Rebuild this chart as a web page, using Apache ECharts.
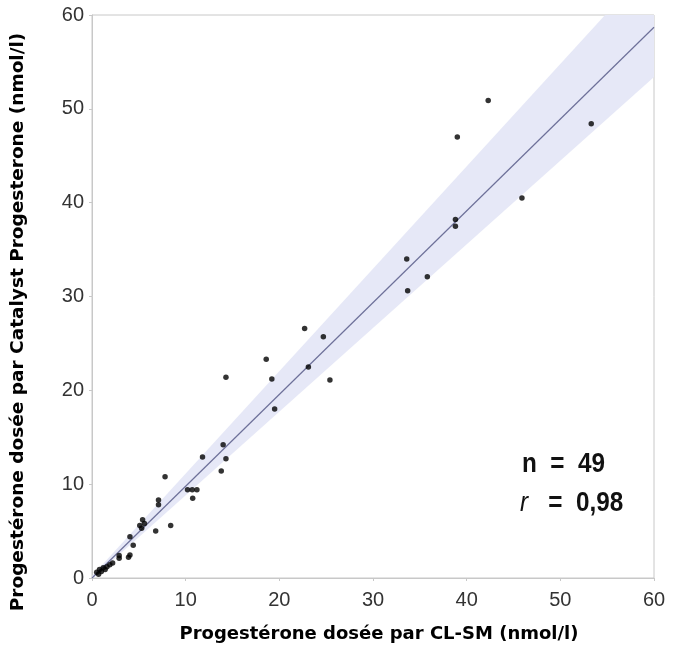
<!DOCTYPE html>
<html>
<head>
<meta charset="utf-8">
<script src="https://cdn.jsdelivr.net/npm/echarts@6/dist/echarts.min.js"></script>
<style>
  html, body { margin: 0; padding: 0; background: #fff; }
  #chart { width: 676px; height: 648px; }
</style>
</head>
<body>
<div id="chart"></div>
<script>
// valeurs
var clsm = [42.3, 39.0, 53.3, 45.9, 38.8, 38.8, 33.6, 35.8, 33.7,
    22.7, 24.7, 18.6, 23.1, 14.3, 19.2, 25.4, 19.5, 14.0, 11.8, 14.3, 13.8, 7.8,
    10.2, 10.7, 11.2, 10.75, 7.1, 7.1, 8.4, 6.8,
    5.1, 5.4, 5.6, 5.3, 4.05, 4.4, 4.05, 3.9, 2.9, 2.9,
    0.5, 0.8, 1.0, 1.2, 1.4, 1.6, 1.9, 2.2, 0.7];
var catalyst = [50.9, 47.0, 48.4, 40.5, 38.2, 37.5, 34.0, 32.1, 30.6,
    26.6, 25.7, 23.3, 22.5, 21.4, 21.2, 21.1, 18.0, 14.2, 12.9, 12.7, 11.4, 10.8,
    9.4, 9.4, 9.4, 8.5, 8.3, 7.8, 5.6, 5.0,
    5.6, 6.2, 5.8, 5.3, 4.4, 3.5, 2.45, 2.2, 2.4, 2.1,
    0.6, 0.9, 0.7, 1.1, 0.9, 1.2, 1.4, 1.6, 0.4];

// droite de régression et intervalle
var fitX = [0, 60];
var fitY = [0, 58.7];
var bandX = [0, 60];
var bandUpper = [0.2, 65.7];
var bandLower = [-0.1, 53.4];

var ticks = [0, 10, 20, 30, 40, 50, 60];

var xTitle = 'Progestérone dosée par CL-SM (nmol/l)';
var yTitle = 'Progestérone dosée par Catalyst Progesterone (nmol/l)';

var points = clsm.map(function (v, i) { return [v, catalyst[i]]; });
var fitLine = fitX.map(function (v, i) { return [v, fitY[i]]; });

var chart = echarts.init(document.getElementById('chart'));

var axisCommon = {
    type: 'value',
    min: ticks[0],
    max: ticks[ticks.length - 1],
    interval: 10,
    splitLine: { show: false },
    axisLine: { show: true, lineStyle: { color: '#c8c8c8', width: 1 } },
    axisTick: { show: true, length: 3, lineStyle: { color: '#c8c8c8' } },
    axisLabel: { color: '#333', fontSize: 20, fontFamily: 'Liberation Sans, Arial, sans-serif' }
};

var statFont = '"Liberation Sans Narrow", "Liberation Sans", sans-serif';

chart.setOption({
    animation: false,
    backgroundColor: '#fff',
    grid: {
        left: 92, right: 22, top: 15, bottom: 70,
        show: true, borderColor: '#c8c8c8', borderWidth: 1, backgroundColor: '#fff'
    },
    xAxis: echarts.util.merge({ axisLabel: { margin: 12 } }, axisCommon),
    yAxis: echarts.util.merge({ axisLabel: { margin: 8 } }, axisCommon),
    graphic: [
        {
            type: 'text', x: 379, y: 634,
            style: { text: xTitle, fill: '#000', font: 'bold 18px "DejaVu Sans", sans-serif', align: 'center', verticalAlign: 'middle' }
        },
        {
            type: 'text', x: 18, y: 322, rotation: Math.PI / 2,
            style: { text: yTitle, fill: '#000', font: 'bold 18.5px "DejaVu Sans", sans-serif', align: 'center', verticalAlign: 'middle' }
        },
        {
            type: 'text', left: 522, top: 451, scaleX: 0.9,
            style: {
                text: 'n  =  49', fill: '#111',
                font: 'bold 27px ' + statFont
            }
        },
        {
            type: 'text', left: 520, top: 490, scaleX: 0.9,
            style: {
                text: '{i|r}{b|   =  0,98}',
                rich: {
                    i: { fill: '#111', font: 'italic 27px ' + statFont },
                    b: { fill: '#111', font: 'bold 27px ' + statFont }
                }
            }
        }
    ],
    series: [
        {
            type: 'custom',
            clip: true,
            silent: true,
            z: 1,
            data: [[0, 0]],
            renderItem: function (params, api) {
                var pts = [];
                for (var i = 0; i < bandX.length; i++) pts.push(api.coord([bandX[i], bandUpper[i]]));
                for (var j = bandX.length - 1; j >= 0; j--) pts.push(api.coord([bandX[j], bandLower[j]]));
                return {
                    type: 'polygon',
                    shape: { points: pts },
                    style: { fill: '#e6e8f7' }
                };
            }
        },
        {
            type: 'line',
            data: fitLine,
            showSymbol: false,
            z: 2,
            lineStyle: { color: '#6d7099', width: 1.2 }
        },
        {
            type: 'scatter',
            data: points,
            symbolSize: 5.5,
            z: 3,
            itemStyle: { color: '#000' }
        }
    ]
});
</script>
</body>
</html>
